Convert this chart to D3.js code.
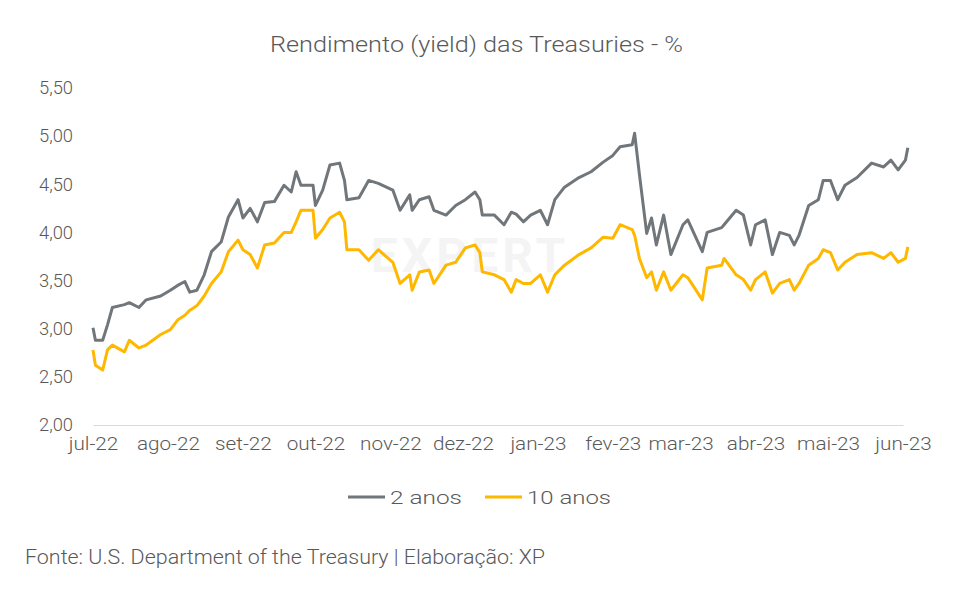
<!DOCTYPE html>
<html><head><meta charset="utf-8">
<script src="https://cdn.jsdelivr.net/npm/d3@7"></script>
<style>body{margin:0;background:#fff;font-family:Roboto,"Noto Sans",sans-serif}text{font-weight:300}</style>
</head><body><svg id="c" width="958" height="594"></svg>
<script>
// dias desde 01/07/2022
const days = [0,1,4,6,8,13,15,19,22,28,32,35,38,40,43,46,49,53,56,60,62,65,68,71,75,79,82,84,86,91,92,95,98,102,104,105,110,114,118,124,127,131,132,135,139,141,146,150,154,158,160,161,166,170,173,175,178,181,185,188,191,195,201,206,211,215,218,223,224,226,229,231,233,236,239,244,246,252,254,260,261,266,269,272,274,278,281,284,288,290,292,296,300,302,305,308,311,316,322,327,330,333,336,337]
const anos2 = [3.01,2.88,2.88,3.04,3.22,3.25,3.27,3.22,3.30,3.34,3.40,3.45,3.49,3.38,3.40,3.56,3.80,3.90,4.16,4.34,4.15,4.25,4.11,4.31,4.32,4.49,4.42,4.63,4.49,4.49,4.28,4.44,4.70,4.72,4.54,4.34,4.36,4.54,4.51,4.44,4.23,4.39,4.23,4.34,4.37,4.23,4.18,4.28,4.34,4.42,4.34,4.18,4.18,4.08,4.21,4.19,4.11,4.18,4.23,4.08,4.34,4.47,4.57,4.63,4.73,4.80,4.89,4.91,5.03,4.60,3.99,4.15,3.87,4.18,3.77,4.08,4.13,3.80,4.00,4.05,4.08,4.23,4.18,3.87,4.08,4.13,3.77,4.00,3.97,3.87,3.97,4.28,4.34,4.54,4.54,4.34,4.49,4.57,4.72,4.68,4.75,4.65,4.75,4.88]
const anos10 = [2.78,2.62,2.57,2.78,2.83,2.76,2.88,2.80,2.83,2.94,2.99,3.09,3.14,3.19,3.24,3.34,3.47,3.59,3.80,3.92,3.82,3.77,3.63,3.87,3.89,4.00,4.00,4.11,4.23,4.23,3.94,4.03,4.15,4.21,4.11,3.82,3.82,3.71,3.82,3.69,3.47,3.56,3.40,3.59,3.61,3.47,3.66,3.69,3.84,3.87,3.79,3.59,3.56,3.51,3.38,3.51,3.47,3.47,3.56,3.38,3.56,3.66,3.77,3.84,3.95,3.94,4.08,4.03,3.97,3.73,3.53,3.59,3.40,3.59,3.40,3.56,3.53,3.30,3.63,3.66,3.73,3.56,3.51,3.40,3.51,3.59,3.37,3.47,3.51,3.40,3.47,3.66,3.73,3.82,3.79,3.61,3.69,3.77,3.79,3.73,3.79,3.69,3.73,3.85]
const yTicks = [2,2.5,3,3.5,4,4.5,5,5.5]
const meses = ['jul-22','ago-22','set-22','out-22','nov-22','dez-22','jan-23','fev-23','mar-23','abr-23','mai-23','jun-23']

const svg = d3.select('#c')
const t0 = new Date(2022, 6, 1)
const dates = days.map(d => d3.timeDay.offset(t0, d))
const x = d3.scaleTime().domain([t0, new Date(2023, 5, 1)]).range([93, 903])
const y = d3.scaleLinear().domain([2, 5.5]).range([425, 88])
const fmt = d3.format('.2f')

svg.append('text').attr('x', 270).attr('y', 52)
  .attr('textLength', 413).attr('lengthAdjust', 'spacingAndGlyphs')
  .style('font-size', '22px').style('fill', '#595959').text('Rendimento (yield) das Treasuries - %')

const yAxis = svg.append('g').attr('transform', 'translate(81,0)')
  .call(d3.axisLeft(y).tickValues(yTicks).tickSize(0).tickPadding(8).tickFormat(d => fmt(d).replace('.', ',')))
yAxis.select('.domain').remove()
yAxis.selectAll('text').style('font-size', '18px').style('fill', '#595959').style('font-family', 'Roboto').style('font-weight', 300)
  .attr('textLength', 34).attr('lengthAdjust', 'spacingAndGlyphs')

const monthDates = meses.map((m, i) => d3.timeMonth.offset(t0, i))
const xAxis = svg.append('g').attr('transform', 'translate(0,425)')
  .call(d3.axisBottom(x).tickValues(monthDates).tickSize(0).tickPadding(12).tickFormat((d, i) => meses[i]))
xAxis.select('.domain').attr('stroke', '#d9d9d9')
xAxis.selectAll('text').style('font-size', '18px').style('fill', '#595959').style('font-family', 'Roboto').style('font-weight', 300)
  .attr('transform', 'scale(1.15,1)')

// marca d'agua
svg.append('text').attr('x', 470).attr('y', 272).attr('text-anchor', 'middle')
  .style('font-size', '48px').style('font-weight', 'bold').style('fill', '#000').style('opacity', 0.04)
  .style('letter-spacing', '4px').text('EXPERT')

const line = vals => d3.line().x((d, i) => x(dates[i])).y(d => y(d))(vals)
svg.append('path').attr('d', line(anos10)).attr('fill', 'none').attr('stroke', '#ffb800').attr('stroke-width', 3).attr('stroke-linejoin', 'round')
svg.append('path').attr('d', line(anos2)).attr('fill', 'none').attr('stroke', '#70767a').attr('stroke-width', 3).attr('stroke-linejoin', 'round')

const leg = [['2 anos', '#70767a', 348, 72], ['10 anos', '#ffb800', 485, 84]]
leg.forEach(([n, c, lx, w]) => {
  svg.append('line').attr('x1', lx).attr('x2', lx + 37).attr('y1', 497).attr('y2', 497).attr('stroke', c).attr('stroke-width', 3)
  svg.append('text').attr('x', lx + 42).attr('y', 504).attr('textLength', w).attr('lengthAdjust', 'spacingAndGlyphs')
    .style('font-size', '19px').style('fill', '#595959').text(n)
})

svg.append('text').attr('x', 25).attr('y', 564).attr('textLength', 520).attr('lengthAdjust', 'spacingAndGlyphs')
  .style('font-size', '19.5px').style('fill', '#595959')
  .text('Fonte: U.S. Department of the Treasury | Elaboração: XP')
</script></body></html>
